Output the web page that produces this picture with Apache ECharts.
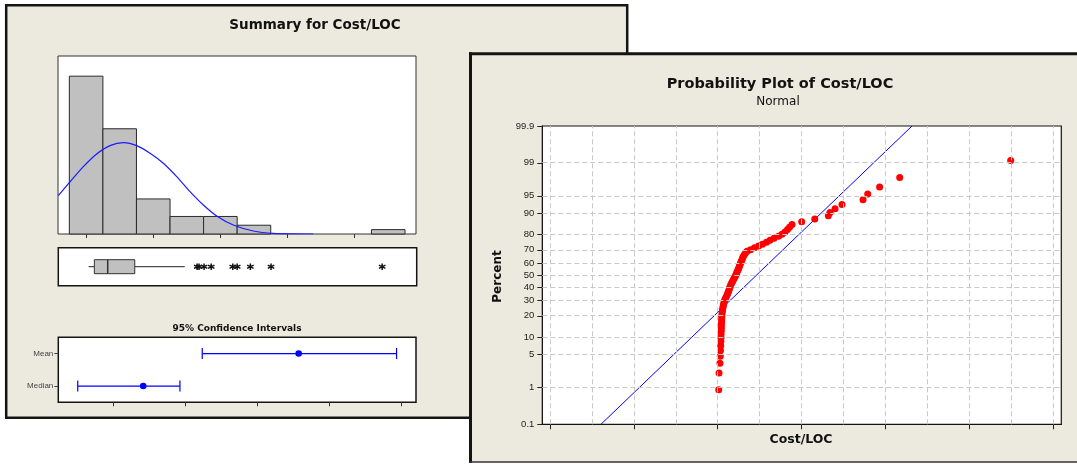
<!DOCTYPE html>
<html>
<head>
<meta charset="utf-8">
<script src="https://cdn.jsdelivr.net/npm/echarts@6/dist/echarts.min.js"></script>
<style>
html, body { margin: 0; padding: 0; background: #fff; }
#chart { width: 1077px; height: 464px; }
</style>
</head>
<body>
<div id="chart"></div>
<script>
// --- Summary window: histogram ---
const binEdges = [8, 12, 16, 20, 24, 28, 32, 36, 40, 44, 48]
const binCounts = [36, 24, 8, 4, 4, 2, 0, 0, 0, 1]
const histTicks = [10, 18, 26, 34, 42]
// fitted normal curve
const curveX = [6.69, 8.0, 9.67, 11.26, 12.85, 14.43, 16.03, 17.62, 19.2, 20.8, 22.38, 23.97, 25.56, 27.54, 29.92, 32.31, 37.07]
const curveY = [8.74, 11.71, 15.37, 18.26, 20.16, 20.84, 20.16, 18.42, 16.14, 13.08, 9.66, 6.62, 4.11, 2.05, 0.68, 0.16, 0.0]

// --- Summary window: boxplot ---
const boxStats = [10.26, 10.94, 12.53, 15.75, 21.7] // min, Q1, median, Q3, upper whisker
const boxOutliers = [23.18, 23.4, 24.0, 24.85, 27.42, 27.94, 29.51, 31.97, 45.2]

// --- Summary window: 95% confidence intervals ---
const ciNames = ['Median', 'Mean']
const ciLow = [11.5, 13.23]
const ciMid = [12.41, 14.57]
const ciHigh = [12.92, 15.93]
const ciTicks = [12, 13, 14, 15, 16]

// --- Probability plot ---
const costValues = [
  10.12, 10.16, 10.27, 10.31, 10.33, 10.36, 10.37, 10.39, 10.40, 10.42,
  10.43, 10.44, 10.45, 10.47, 10.48, 10.49, 10.51, 10.54, 10.57, 10.61,
  10.66, 10.70, 10.75, 10.81, 10.89, 10.99, 11.09, 11.17, 11.25, 11.32,
  11.38, 11.44, 11.50, 11.59, 11.68, 11.78, 11.87, 11.97, 12.06, 12.15,
  12.23, 12.30, 12.39, 12.46, 12.54, 12.60, 12.67, 12.74, 12.82, 12.90,
  12.97, 13.05, 13.17, 13.32, 13.50, 13.91, 14.39, 14.87, 15.35, 15.82,
  16.24, 16.72, 17.26, 17.67, 18.03, 18.33, 18.57, 18.87, 20.02, 21.58,
  23.20, 23.40, 24.00, 24.83, 27.34, 27.90, 29.32, 31.72, 44.96
]
const percentTicks = ['0.1', '1', '5', '10', '20', '30', '40', '50', '60', '70', '80', '90', '95', '99', '99.9']
const fitX = [-3.93, 33.19]
const fitP = [0.1, 99.9]
const probTicks = [-10, 0, 10, 20, 30, 40, 50]
const probGrid = [-10, -5, 0, 5, 10, 15, 20, 25, 30, 35, 40, 45, 50]

// inverse normal cdf (Acklam), used for the normal probability scale
function probit (p) {
  const a = [-39.69683028665376, 220.9460984245205, -275.9285104469687, 138.3577518672690, -30.66479806614716, 2.506628277459239]
  const b = [-54.47609879822406, 161.5858368580409, -155.6989798598866, 66.80131188771972, -13.28068155288572]
  const c = [-0.007784894002430293, -0.3223964580411365, -2.400758277161838, -2.549732539343734, 4.374664141464968, 2.938163982698783]
  const d = [0.007784695709041462, 0.3224671290700398, 2.445134137142996, 3.754408661907416]
  const pl = 0.02425
  let q, r
  if (p < pl) {
    q = Math.sqrt(-2 * Math.log(p))
    return (((((c[0] * q + c[1]) * q + c[2]) * q + c[3]) * q + c[4]) * q + c[5]) / ((((d[0] * q + d[1]) * q + d[2]) * q + d[3]) * q + 1)
  }
  if (p <= 1 - pl) {
    q = p - 0.5
    r = q * q
    return (((((a[0] * r + a[1]) * r + a[2]) * r + a[3]) * r + a[4]) * r + a[5]) * q / (((((b[0] * r + b[1]) * r + b[2]) * r + b[3]) * r + b[4]) * r + 1)
  }
  q = Math.sqrt(-2 * Math.log(1 - p))
  return -(((((c[0] * q + c[1]) * q + c[2]) * q + c[3]) * q + c[4]) * q + c[5]) / ((((d[0] * q + d[1]) * q + d[2]) * q + d[3]) * q + 1)
}

const N = costValues.length
const zTicks = percentTicks.map(p => probit(+p / 100))
const probPoints = costValues.map((v, i) => [v, probit((i + 1 - 0.3) / (N + 0.4))])
const fitLine = fitX.map((x, i) => [x, probit(fitP[i] / 100)])

const winBg = '#ECE9DE'
const ink = '#141414'
const dash = [5, 3]

const myChart = echarts.init(document.getElementById('chart'))
const option = {
  animation: false,
  graphic: [
    // left window (behind)
    { type: 'rect', z: -10, shape: { x: 6.2, y: 5.2, width: 621, height: 412.5 }, style: { fill: winBg, stroke: ink, lineWidth: 2.5 } },
    // right window (in front)
    { type: 'rect', z: -9, shape: { x: 470, y: 53, width: 620, height: 409 }, style: { fill: winBg } },
    { type: 'line', z: -9, shape: { x1: 470.5, y1: 52.2, x2: 470.5, y2: 463 }, style: { stroke: ink, lineWidth: 3 } },
    { type: 'line', z: -9, shape: { x1: 469, y1: 53.7, x2: 1077, y2: 53.7 }, style: { stroke: ink, lineWidth: 3 } },
    { type: 'line', z: -9, shape: { x1: 469, y1: 462, x2: 1077, y2: 462 }, style: { stroke: '#333', lineWidth: 1.5 } },
    // texts
    { type: 'text', z: 10, x: 315, y: 25, style: { text: 'Summary for Cost/LOC', font: 'bold 13.5px "DejaVu Sans"', fill: '#111', align: 'center', verticalAlign: 'middle' } },
    { type: 'text', z: 10, x: 237, y: 329, style: { text: '95% Confidence Intervals', font: 'bold 9px "DejaVu Sans"', fill: '#111', align: 'center', verticalAlign: 'middle' } },
    { type: 'text', z: 10, x: 780, y: 84, style: { text: 'Probability Plot of Cost/LOC', font: 'bold 14.5px "DejaVu Sans"', fill: '#111', align: 'center', verticalAlign: 'middle' } },
    { type: 'text', z: 10, x: 778, y: 102, style: { text: 'Normal', font: '12px "DejaVu Sans"', fill: '#111', align: 'center', verticalAlign: 'middle' } },
    { type: 'text', z: 10, x: 498, y: 276.5, rotation: Math.PI / 2, style: { text: 'Percent', font: 'bold 12px "DejaVu Sans"', fill: '#111', align: 'center', verticalAlign: 'middle' } },
    { type: 'text', z: 10, x: 801, y: 439.5, style: { text: 'Cost/LOC', font: 'bold 12.5px "DejaVu Sans"', fill: '#111', align: 'center', verticalAlign: 'middle' } }
  ],
  grid: [
    { left: 58, top: 56, width: 358, height: 178, show: true, backgroundColor: '#fff', borderColor: '#333', borderWidth: 1 },
    { left: 58.3, top: 247.7, width: 358.4, height: 38, show: true, backgroundColor: '#fff', borderColor: ink, borderWidth: 1.5 },
    { left: 58.3, top: 337.3, width: 357.7, height: 65, show: true, backgroundColor: '#fff', borderColor: ink, borderWidth: 1.5 },
    { left: 542.3, top: 126, width: 519, height: 298.3, show: true, backgroundColor: '#fff', borderColor: ink, borderWidth: 1.2 }
  ],
  xAxis: [
    {
      gridIndex: 0, type: 'value', min: 6.65, max: 49.31,
      axisLine: { show: false, onZero: false },
      axisTick: { show: true, customValues: histTicks, length: 4, lineStyle: { color: '#333' } },
      axisLabel: { show: false },
      splitLine: { show: false }
    },
    { gridIndex: 1, type: 'value', min: 6.65, max: 49.31, show: false },
    {
      gridIndex: 2, type: 'value', min: 11.23, max: 16.2,
      axisLine: { show: false, onZero: false },
      axisTick: { show: true, customValues: ciTicks, length: 4, lineStyle: { color: '#333' } },
      axisLabel: { show: false },
      splitLine: { show: false }
    },
    {
      gridIndex: 3, type: 'value', min: -10.93, max: 51.0,
      axisLine: { show: true, onZero: false, lineStyle: { color: ink } },
      axisTick: { show: true, customValues: probTicks, length: 5, lineStyle: { color: '#222' } },
      axisLabel: { show: false },
      splitLine: { show: false }
    }
  ],
  yAxis: [
    { gridIndex: 0, type: 'value', min: 0, max: 40.6, show: false },
    { gridIndex: 1, type: 'value', min: 0, max: 1, show: false },
    {
      gridIndex: 2, type: 'category', data: ciNames,
      axisLine: { show: false, onZero: false },
      axisTick: { show: true, alignWithLabel: true, length: 4, lineStyle: { color: '#444' } },
      axisLabel: { fontFamily: 'Liberation Sans', fontSize: 8, color: '#444', margin: 5 },
      splitLine: { show: false }
    },
    {
      gridIndex: 3, type: 'value', min: zTicks[0], max: zTicks[zTicks.length - 1],
      axisLine: { show: true, onZero: false, lineStyle: { color: ink } },
      axisTick: { show: true, customValues: zTicks, length: 5, lineStyle: { color: '#222' } },
      axisLabel: {
        customValues: zTicks,
        fontFamily: 'Liberation Sans', fontSize: 9.5, color: '#222', margin: 8,
        formatter: function (val) {
          for (let i = 0; i < zTicks.length; i++) {
            if (Math.abs(zTicks[i] - val) < 1e-6) return percentTicks[i]
          }
          return ''
        }
      },
      splitLine: { show: false }
    }
  ],
  series: [
    {
      // histogram bars
      type: 'custom', xAxisIndex: 0, yAxisIndex: 0, z: 2,
      data: binCounts.map((c, i) => [binEdges[i], binEdges[i + 1], c]),
      renderItem: function (params, api) {
        if (api.value(2) <= 0) return null
        const p0 = api.coord([api.value(0), 0])
        const p1 = api.coord([api.value(1), api.value(2)])
        return {
          type: 'rect',
          shape: { x: p0[0], y: p1[1], width: p1[0] - p0[0], height: p0[1] - p1[1] },
          style: { fill: '#C0C0C0', stroke: '#2a2a2a', lineWidth: 1 }
        }
      }
    },
    {
      // normal curve
      type: 'line', xAxisIndex: 0, yAxisIndex: 0, z: 3,
      data: curveX.map((x, i) => [x, curveY[i]]),
      smooth: 0.3, symbol: 'none',
      lineStyle: { color: '#1a1aff', width: 1.2 }
    },
    {
      // box and whiskers
      type: 'custom', xAxisIndex: 1, yAxisIndex: 1, z: 2,
      data: [boxStats],
      renderItem: function (params, api) {
        const y = api.coord([0, 0.5])[1]
        const px = k => api.coord([api.value(k), 0.5])[0]
        const lo = px(0); const q1 = px(1); const med = px(2); const q3 = px(3); const hi = px(4)
        const h = 14
        return {
          type: 'group',
          children: [
            { type: 'line', shape: { x1: lo, y1: y, x2: q1, y2: y }, style: { stroke: '#222', lineWidth: 1 } },
            { type: 'line', shape: { x1: q3, y1: y, x2: hi, y2: y }, style: { stroke: '#222', lineWidth: 1 } },
            { type: 'rect', shape: { x: q1, y: y - h / 2, width: q3 - q1, height: h }, style: { fill: '#C0C0C0', stroke: '#333', lineWidth: 1 } },
            { type: 'line', shape: { x1: med, y1: y - h / 2, x2: med, y2: y + h / 2 }, style: { stroke: '#333', lineWidth: 1.5 } }
          ]
        }
      }
    },
    {
      // outliers
      type: 'scatter', xAxisIndex: 1, yAxisIndex: 1, z: 3,
      data: boxOutliers.map(v => [v, 0.5]),
      symbol: 'path://M5,0L5,10M0.67,2.5L9.33,7.5M0.67,7.5L9.33,2.5',
      symbolSize: 6.5,
      itemStyle: { color: 'transparent', borderColor: '#111', borderWidth: 1.5, opacity: 1 }
    },
    {
      // confidence intervals
      type: 'custom', xAxisIndex: 2, yAxisIndex: 2, z: 3,
      data: ciNames.map((n, i) => [ciLow[i], ciMid[i], ciHigh[i], i]),
      renderItem: function (params, api) {
        const a = api.coord([api.value(0), api.value(3)])
        const m = api.coord([api.value(1), api.value(3)])
        const b = api.coord([api.value(2), api.value(3)])
        const s = { stroke: '#0000ff', lineWidth: 1.2 }
        const cap = 5.5
        return {
          type: 'group',
          children: [
            { type: 'line', shape: { x1: a[0], y1: a[1], x2: b[0], y2: b[1] }, style: s },
            { type: 'line', shape: { x1: a[0], y1: a[1] - cap, x2: a[0], y2: a[1] + cap }, style: s },
            { type: 'line', shape: { x1: b[0], y1: b[1] - cap, x2: b[0], y2: b[1] + cap }, style: s },
            { type: 'circle', shape: { cx: m[0], cy: m[1], r: 3.3 }, style: { fill: '#0000ff' } }
          ]
        }
      }
    },
    {
      // dashed reference grid of the probability plot
      type: 'line', xAxisIndex: 3, yAxisIndex: 3, z: 1, data: [], silent: true,
      markLine: {
        silent: true, symbol: ['none', 'none'], label: { show: false },
        lineStyle: { color: '#c8c8c8', width: 1, type: dash },
        data: probGrid.map(v => ({ xAxis: v })).concat(zTicks.slice(1, -1).map(z => ({ yAxis: z })))
      }
    },
    {
      // fitted line
      type: 'line', xAxisIndex: 3, yAxisIndex: 3, z: 3,
      data: fitLine, symbol: 'none',
      lineStyle: { color: '#0000ff', width: 1 }
    },
    {
      // data points
      type: 'scatter', xAxisIndex: 3, yAxisIndex: 3, z: 4,
      data: probPoints, symbolSize: 7,
      itemStyle: { color: '#ff0000', opacity: 1 }
    }
  ]
}
myChart.setOption(option)
</script>
</body>
</html>
